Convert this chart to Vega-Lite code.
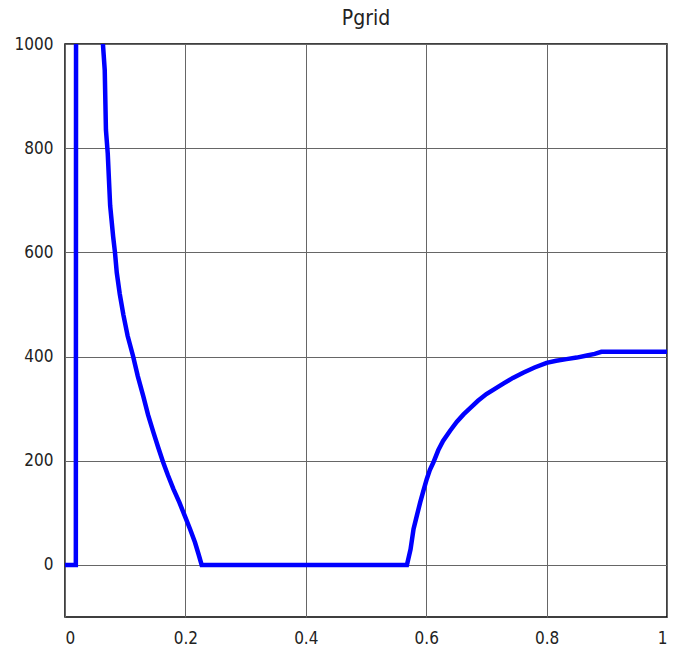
{
  "$schema": "https://vega.github.io/schema/vega-lite/v6.json",
  "width": 602,
  "height": 573,
  "autosize": {"type": "none"},
  "padding": {"left": 65, "top": 44, "right": 25, "bottom": 47},
  "background": "white",
  "title": {"text": "Pgrid", "fontSize": 21, "font": "Liberation Sans Narrow, DejaVu Sans Condensed, Liberation Sans", "fontWeight": "normal", "color": "#222", "offset": 6, "anchor": "middle"},
  "config": {
    "view": {"stroke": "black", "strokeWidth": 1.5},
    "axis": {"labelFont": "Liberation Sans Narrow, DejaVu Sans Condensed, Liberation Sans", "labelFontSize": 17, "labelColor": "#222", "grid": true, "gridColor": "#666", "gridWidth": 1, "domain": false, "ticks": false, "title": null}
  },
  "data": {"values": [
    {"t": 0, "p": 0},
    {"t": 0.018, "p": 0},
    {"t": 0.019, "p": 3000},
    {"t": 0.058, "p": 1150},
    {"t": 0.063, "p": 1000},
    {"t": 0.066, "p": 950},
    {"t": 0.068, "p": 835},
    {"t": 0.071, "p": 790},
    {"t": 0.075, "p": 690},
    {"t": 0.080, "p": 630},
    {"t": 0.083, "p": 600},
    {"t": 0.086, "p": 561},
    {"t": 0.091, "p": 520},
    {"t": 0.097, "p": 480},
    {"t": 0.104, "p": 440},
    {"t": 0.113, "p": 401},
    {"t": 0.121, "p": 362},
    {"t": 0.130, "p": 324},
    {"t": 0.138, "p": 288},
    {"t": 0.147, "p": 254},
    {"t": 0.155, "p": 225},
    {"t": 0.163, "p": 197},
    {"t": 0.171, "p": 172},
    {"t": 0.180, "p": 146},
    {"t": 0.190, "p": 120},
    {"t": 0.199, "p": 94},
    {"t": 0.208, "p": 68},
    {"t": 0.216, "p": 43},
    {"t": 0.222, "p": 20},
    {"t": 0.227, "p": 0},
    {"t": 0.568, "p": 0},
    {"t": 0.574, "p": 30},
    {"t": 0.579, "p": 69},
    {"t": 0.585, "p": 97},
    {"t": 0.590, "p": 120},
    {"t": 0.596, "p": 145},
    {"t": 0.601, "p": 165},
    {"t": 0.606, "p": 182},
    {"t": 0.612, "p": 197},
    {"t": 0.620, "p": 220},
    {"t": 0.628, "p": 238},
    {"t": 0.640, "p": 258},
    {"t": 0.651, "p": 275},
    {"t": 0.662, "p": 289},
    {"t": 0.673, "p": 301},
    {"t": 0.686, "p": 315},
    {"t": 0.700, "p": 328},
    {"t": 0.714, "p": 338},
    {"t": 0.728, "p": 348},
    {"t": 0.744, "p": 359},
    {"t": 0.761, "p": 369},
    {"t": 0.780, "p": 379},
    {"t": 0.800, "p": 388},
    {"t": 0.816, "p": 392},
    {"t": 0.833, "p": 395},
    {"t": 0.850, "p": 398},
    {"t": 0.867, "p": 402},
    {"t": 0.880, "p": 405},
    {"t": 0.891, "p": 409},
    {"t": 1.0, "p": 409}
  ]},
  "mark": {"type": "line", "color": "#0000FF", "strokeWidth": 4.5, "clip": true},
  "encoding": {
    "x": {"field": "t", "type": "quantitative", "scale": {"domain": [0, 1], "nice": false, "zero": false},
      "axis": {"values": [0, 0.2, 0.4, 0.6, 0.8, 1], "labelPadding": 13, "labelExpr": "datum.value == 0 ? '0' : datum.value == 1 ? '1' : format(datum.value, '.1f')"}},
    "y": {"field": "p", "type": "quantitative", "scale": {"domain": [-100, 1000], "nice": false, "zero": false},
      "axis": {"values": [0, 200, 400, 600, 800, 1000], "format": "d", "labelPadding": 12}}
  }
}
